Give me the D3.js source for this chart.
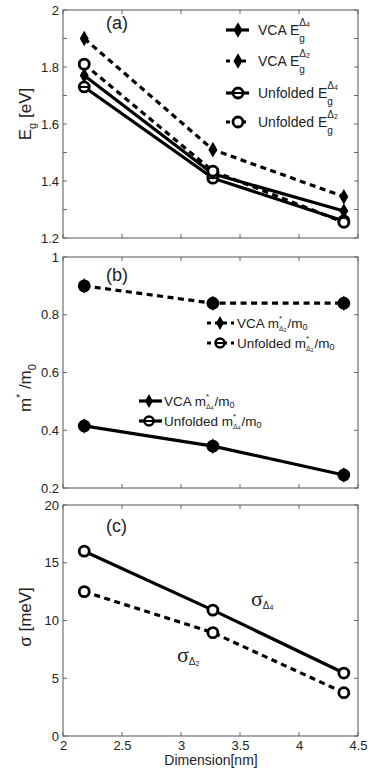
<!DOCTYPE html>
<html><head><meta charset="utf-8">
<script src="https://cdn.jsdelivr.net/npm/d3@7"></script>
<style>body{margin:0;background:#fff}svg{display:block}text{font-family:"Liberation Sans",Arial,sans-serif;fill:#222}</style>
</head><body>
<script>
const dims = [2.18, 3.27, 4.38];
const xTicks = [2, 2.5, 3, 3.5, 4, 4.5];
// panel (a)
const vcaEgD4 = [1.77, 1.425, 1.295];
const vcaEgD2 = [1.90, 1.51, 1.345];
const unfEgD4 = [1.73, 1.41, 1.26];
const unfEgD2 = [1.81, 1.435, 1.255];
const aTicks = [1.2, 1.4, 1.6, 1.8, 2];
// panel (b)
const vcaMD2 = [0.90, 0.84, 0.84];
const unfMD2 = [0.90, 0.84, 0.84];
const vcaMD4 = [0.415, 0.345, 0.245];
const unfMD4 = [0.415, 0.345, 0.245];
const bTicks = [0.2, 0.4, 0.6, 0.8, 1];
// panel (c)
const sigD4 = [16, 10.9, 5.45];
const sigD2 = [12.5, 8.95, 3.75];
const cTicks = [0, 5, 10, 15, 20];

const W = 368, H = 778, L = 63, R = 358;
const svg = d3.select("body").append("svg").attr("width", W).attr("height", H);
const x = d3.scaleLinear().domain([2, 4.5]).range([L, R]);

function panel(top, bottom, domain, ticks, minor, fmt, showX) {
  const y = d3.scaleLinear().domain(domain).range([bottom, top]);
  const g = svg.append("g");
  g.append("rect").attr("x", L).attr("y", top).attr("width", R - L).attr("height", bottom - top)
    .attr("fill", "none").attr("stroke", "#555").attr("stroke-width", 1);
  const yl = g.append("g").attr("transform", `translate(${L},0)`)
    .call(d3.axisLeft(y).tickValues(ticks).tickSize(0).tickPadding(4).tickFormat(fmt));
  yl.select(".domain").remove();
  yl.selectAll("text").style("font-size", "13px").attr("fill", "#222");
  const yt = minor || ticks;
  yt.forEach(v => {
    g.append("line").attr("x1", L).attr("x2", L + 4).attr("y1", y(v)).attr("y2", y(v)).attr("stroke", "#666");
    g.append("line").attr("x1", R).attr("x2", R - 4).attr("y1", y(v)).attr("y2", y(v)).attr("stroke", "#666");
  });
  xTicks.forEach(v => {
    g.append("line").attr("x1", x(v)).attr("x2", x(v)).attr("y1", bottom).attr("y2", bottom - 4).attr("stroke", "#666");
    g.append("line").attr("x1", x(v)).attr("x2", x(v)).attr("y1", top).attr("y2", top + 4).attr("stroke", "#666");
  });
  if (showX) {
    const xa = g.append("g").attr("transform", `translate(0,${bottom})`)
      .call(d3.axisBottom(x).tickValues(xTicks).tickSize(0).tickPadding(5).tickFormat(d3.format("")));
    xa.select(".domain").remove();
    xa.selectAll("text").style("font-size", "13px").attr("fill", "#222");
  }
  return {g, y};
}

const line = (g, y, vals, dashed, w) => g.append("path")
  .datum(vals.map((v, i) => [dims[i], v]))
  .attr("d", d3.line().x(d => x(d[0])).y(d => y(d[1])))
  .attr("fill", "none").attr("stroke", "#000").attr("stroke-width", w || 3.2)
  .attr("stroke-dasharray", dashed ? "6,4.5" : null);
const diamonds = (g, y, vals, s) => vals.forEach((v, i) => g.append("path")
  .attr("d", d3.symbol(d3.symbolDiamond, s || 70)()).attr("transform", `translate(${x(dims[i])},${y(v)})`).attr("fill", "#000"));
const circles = (g, y, vals, r, fill) => vals.forEach((v, i) => g.append("circle")
  .attr("cx", x(dims[i])).attr("cy", y(v)).attr("r", r || 5)
  .attr("fill", fill || "#fff").attr("stroke", "#000").attr("stroke-width", 2.8));

// one text element; tspans placed at absolute positions (dy relative to baseline)
function stacked(g, xx, yy, base, sup, sub, tail, size) {
  const t = g.append("text").attr("x", xx).attr("y", yy).style("font-size", size + "px");
  const b = t.append("tspan").attr("x", xx).attr("y", yy).text(base);
  const bw = b.node().getComputedTextLength();
  let cx = xx + bw, supW = 0, subW = 0;
  sup.forEach(p => {
    const ts = t.append("tspan").attr("x", cx + supW).attr("y", yy + p.dy).style("font-size", p.s + "px").text(p.t);
    supW += ts.node().getComputedTextLength();
  });
  sub.forEach(p => {
    const ts = t.append("tspan").attr("x", cx + subW).attr("y", yy + p.dy).style("font-size", p.s + "px").text(p.t);
    subW += ts.node().getComputedTextLength();
  });
  let tx = cx + Math.max(supW, subW) + 1;
  (tail || []).forEach(p => {
    const ts = t.append("tspan").attr("x", tx).attr("y", yy + (p.dy || 0)).style("font-size", (p.s || size) + "px").text(p.t);
    tx += ts.node().getComputedTextLength();
  });
  return t;
}

// ---------- Panel (a)
const A = panel(10, 238, [1.2, 2], aTicks, d3.range(12, 21).map(v => v / 10), d => d === 2 ? "2" : d3.format(".1f")(d), false);
line(A.g, A.y, vcaEgD2, true);
line(A.g, A.y, unfEgD2, true);
line(A.g, A.y, vcaEgD4, false);
line(A.g, A.y, unfEgD4, false);
diamonds(A.g, A.y, vcaEgD2);
diamonds(A.g, A.y, vcaEgD4);
circles(A.g, A.y, unfEgD4);
unfEgD4.forEach((v, i) => A.g.append("line").attr("x1", x(dims[i]) - 5).attr("x2", x(dims[i]) + 5)
  .attr("y1", A.y(v)).attr("y2", A.y(v)).attr("stroke", "#000").attr("stroke-width", 2));
circles(A.g, A.y, unfEgD2);
A.g.append("text").attr("x", 106).attr("y", 29).style("font-size", "18px").text("(a)");

// legend (a)
const legA = [
  {lab: "VCA E", sup: "4", dash: false, m: "d"},
  {lab: "VCA E", sup: "2", dash: true, m: "d"},
  {lab: "Unfolded E", sup: "4", dash: false, m: "c4"},
  {lab: "Unfolded E", sup: "2", dash: true, m: "c"}
];
legA.forEach((e, i) => {
  const yy = [30, 61, 93, 122][i];
  A.g.append("line").attr("x1", 226).attr("x2", 249).attr("y1", yy).attr("y2", yy)
    .attr("stroke", "#000").attr("stroke-width", 3.2).attr("stroke-dasharray", e.dash ? "4,4" : null);
  if (e.m === "d") A.g.append("path").attr("d", d3.symbol(d3.symbolDiamond, 70)()).attr("transform", `translate(238,${yy})`);
  else {
    A.g.append("circle").attr("cx", 238).attr("cy", yy).attr("r", 5).attr("fill", "#fff").attr("stroke", "#000").attr("stroke-width", 2.8);
    if (e.m === "c4") A.g.append("line").attr("x1", 233).attr("x2", 243).attr("y1", yy).attr("y2", yy).attr("stroke", "#000").attr("stroke-width", 2);
  }
  stacked(A.g, 258, yy + 5, e.lab,
    [{t: "Δ", s: 10, dy: -9}, {t: e.sup, s: 7, dy: -8}],
    [{t: "g", s: 10, dy: 7}], null, 14);
});

// y label a
const ya = svg.append("text").attr("transform", "translate(31,114) rotate(-90)").attr("text-anchor", "middle").style("font-size", "17px");
ya.append("tspan").text("E");
ya.append("tspan").text("g").style("font-size", "11px").attr("dy", 5);
ya.append("tspan").text(" [eV]").attr("dy", -5);

// ---------- Panel (b)
const B = panel(257, 488, [0.2, 1], bTicks, null, d => d === 1 ? "1" : d3.format(".1f")(d), false);
line(B.g, B.y, vcaMD2, true);
line(B.g, B.y, vcaMD4, false);
circles(B.g, B.y, unfMD2, 5, "#000");
circles(B.g, B.y, unfMD4, 5, "#000");
diamonds(B.g, B.y, vcaMD2);
diamonds(B.g, B.y, vcaMD4);
B.g.append("text").attr("x", 106).attr("y", 281).style("font-size", "18px").text("(b)");

function legB(g, x0, xm, x1, tx, yy, dash, circ, lab, sub) {
  g.append("line").attr("x1", x0).attr("x2", x1).attr("y1", yy).attr("y2", yy)
    .attr("stroke", "#000").attr("stroke-width", 3.2).attr("stroke-dasharray", dash ? "4,4" : null);
  if (circ) {
    g.append("circle").attr("cx", xm).attr("cy", yy).attr("r", 4.5).attr("fill", "#fff").attr("stroke", "#000").attr("stroke-width", 2.5);
    g.append("line").attr("x1", xm - 4).attr("x2", xm + 4).attr("y1", yy).attr("y2", yy).attr("stroke", "#000").attr("stroke-width", 2);
  } else g.append("path").attr("d", d3.symbol(d3.symbolDiamond, 55)()).attr("transform", `translate(${xm},${yy})`);
  stacked(g, tx, yy + 5, lab + "m",
    [{t: "*", s: 8, dy: -7}],
    [{t: "Δ", s: 7, dy: 3}, {t: sub, s: 5, dy: 4}],
    [{t: "/m"}, {t: "0", s: 9, dy: 2}], 13.5);
}
legB(B.g, 207, 220, 234, 237, 323, true, false, "VCA  ", "2");
legB(B.g, 207, 220, 234, 237, 343, true, true, "Unfolded ", "2");
legB(B.g, 139, 149, 162, 164, 401, false, false, "VCA ", "4");
legB(B.g, 139, 149, 162, 164, 421, false, true, "Unfolded ", "4");

const yb = svg.append("text").attr("transform", "translate(31,388) rotate(-90)").attr("text-anchor", "middle").style("font-size", "17px");
yb.append("tspan").text("m");
yb.append("tspan").text("*").style("font-size", "10px").attr("dy", -7);
yb.append("tspan").text(" /m").attr("dy", 7);
yb.append("tspan").text("0").style("font-size", "11px").attr("dy", 5);

// ---------- Panel (c)
const C = panel(505, 736, [0, 20], cTicks, null, d3.format("d"), true);
line(C.g, C.y, sigD4, false);
line(C.g, C.y, sigD2, true);
circles(C.g, C.y, sigD4);
circles(C.g, C.y, sigD2);
C.g.append("text").attr("x", 106).attr("y", 532).style("font-size", "18px").text("(c)");
function sig(g, xx, yy, n) {
  const t = g.append("text").attr("x", xx).attr("y", yy).style("font-size", "22px");
  t.append("tspan").text("σ").style("font-family", "Liberation Serif");
  t.append("tspan").text("Δ").style("font-size", "10px").attr("dy", 3);
  t.append("tspan").text(n).style("font-size", "7px").attr("dy", 1);
}
sig(C.g, 251, 606, "4");
sig(C.g, 177, 662, "2");

svg.append("text").attr("transform", "translate(31,617) rotate(-90)").attr("text-anchor", "middle").style("font-size", "17px").text("σ [meV]");
svg.append("text").attr("x", 211).attr("y", 765).attr("text-anchor", "middle").style("font-size", "14px").text("Dimension[nm]");
</script>
</body></html>
